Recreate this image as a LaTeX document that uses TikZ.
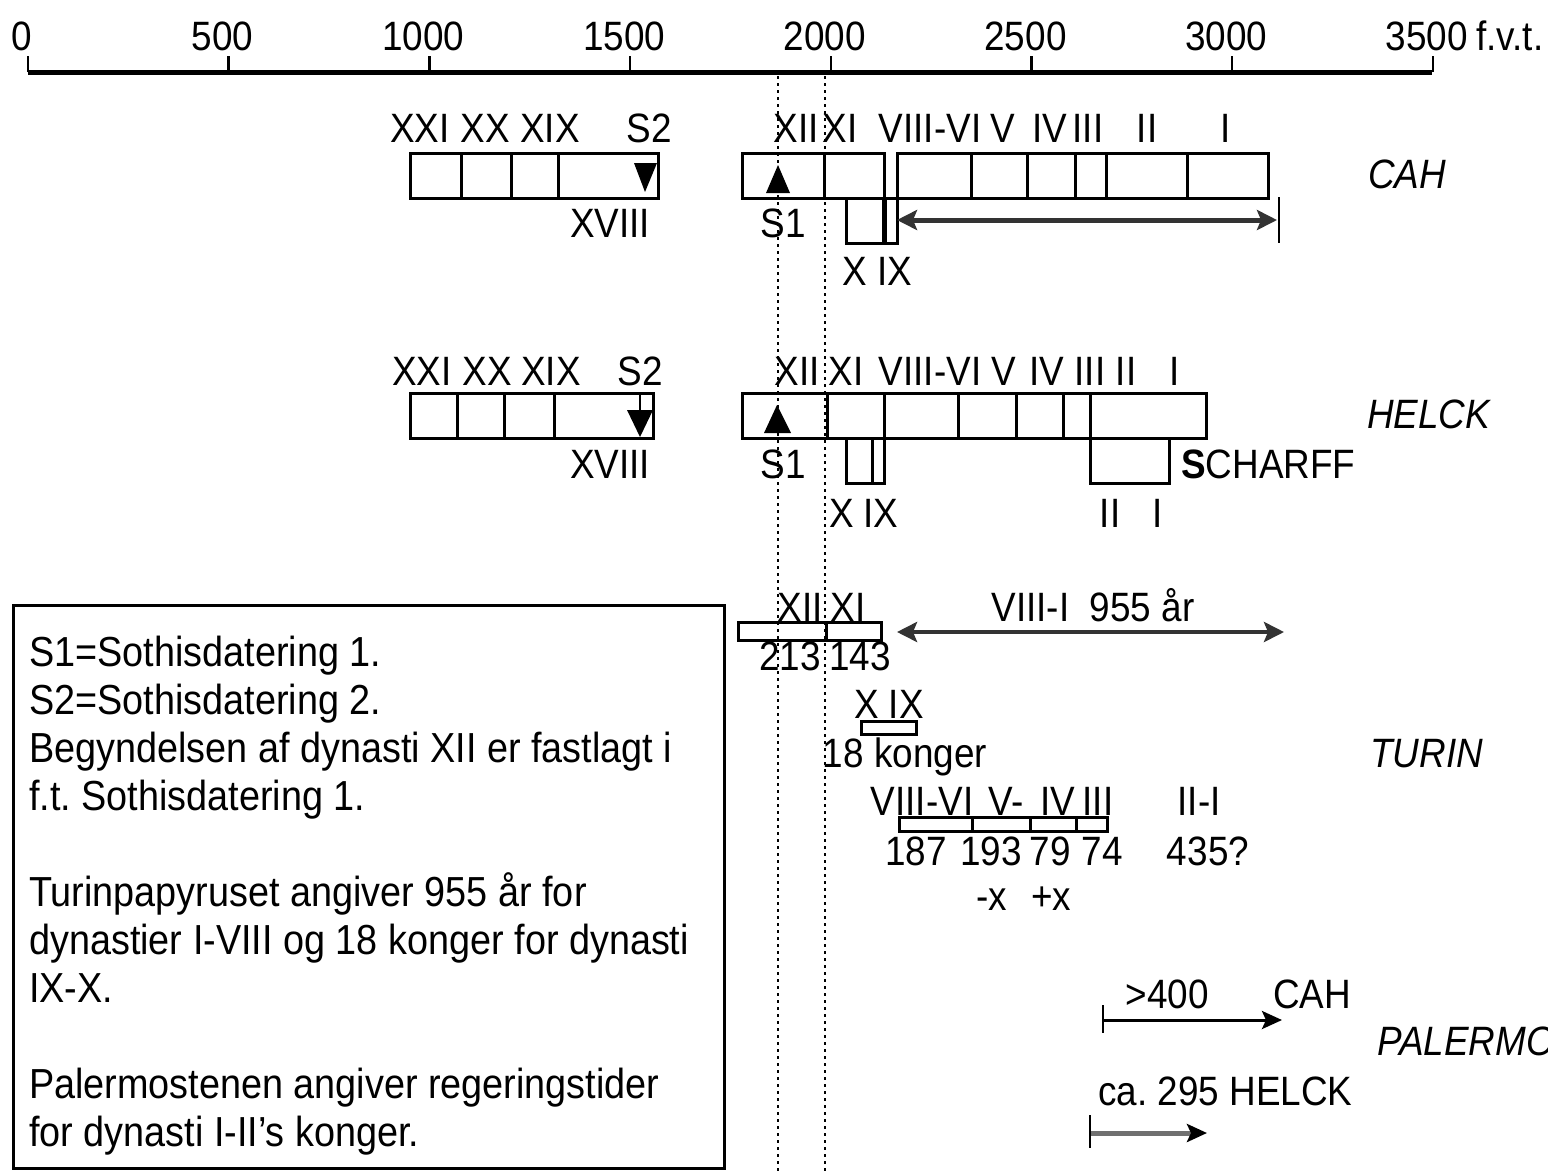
\documentclass[tikz,border=0pt]{standalone}
\usepackage{fontspec}
\setmainfont{Liberation Sans}[FakeStretch=0.9]
\usetikzlibrary{arrows.meta,positioning}
\definecolor{Ink}{HTML}{000000}
\definecolor{Shaft}{HTML}{333333}
\definecolor{Pale}{HTML}{707070}
\newcommand\lblfont{\fontsize{41}{48}\selectfont\frenchspacing}
\newcommand\notefont{\fontsize{42}{48}\selectfont\frenchspacing}
\tikzset{
  lbl/.style={font=\lblfont,Ink,anchor=base,inner sep=0pt},
  src/.style={font=\lblfont\itshape,Ink,anchor=base west,inner sep=0pt},
  dynbox/.style={draw=Ink,line width=3pt},
  guide/.style={Ink,line width=2.5pt,dash pattern=on 2.5pt off 4.5pt},
  span/.style={Shaft,line width=5pt,{Stealth[length=20pt,width=20pt,inset=4pt]}-{Stealth[length=20pt,width=20pt,inset=4pt]}},
  onward/.style={line width=3pt,-{Stealth[length=20pt,width=18pt,inset=4pt,color=Ink]}},
  stopbar/.style={Ink,line width=2pt},
}

\begin{document}
\begin{tikzpicture}[x=1pt,y=-1pt]
  \useasboundingbox (0,0) rectangle (1548,1171);
  % year axis
  \draw[Ink,line width=5pt] (28,72) -- (1432,72);
  \foreach \t in {0,500,...,3500} {
    \draw[Ink,line width=2.5pt] ({28+0.4014*\t},72) -- ++(0,-16);
    \node[lbl] (yr\t) at ({22+0.4014*\t},50) {\t};
  }
  \node[lbl,anchor=base west] (fvt) at ([xshift=8pt]yr3500.base east) {f.v.t.};
  % Sothis lines
  \draw[guide] (778,76) -- (778,1171);
  \draw[guide] (825,76) -- (825,1171);

  % CAH
  \draw[dynbox] (410,153) rectangle (658,198);
  \foreach \x in {461,511,558} \draw[dynbox] (\x,153) -- (\x,198);
  \draw[dynbox] (742,153) rectangle (884,198);
  \draw[dynbox] (824,153) -- (824,198);
  \draw[dynbox] (897,153) rectangle (1268,198);
  \foreach \x in {971,1027,1075,1106,1187} \draw[dynbox] (\x,153) -- (\x,198);
  \draw[dynbox] (846,198) rectangle (897,243);
  \draw[Ink,line width=5pt] (884,198) -- (884,243);
  \fill[Ink] (634,163) -- (657,163) -- (645,192) -- cycle;
  \fill[Ink] (766,193) -- (790,193) -- (778,165) -- cycle;
  \foreach \x/\t [count=\i] in {420/XXI,485/XX,550/XIX,649/S2,796/XII,840/XI,
    930/VIII-VI,1003/V,1050/IV,1088/III,1147/II,1226/I}
    \node[lbl] (cah\i) at (\x,142) {\t};
  \node[lbl] (cahxviii) at (610,237) {XVIII};
  \node[lbl] (cahsone) at (783,237) {S1};
  \node[lbl] (cahx) at (855,285) {X};
  \node[lbl] (cahix) at (895,285) {IX};
  \node[src] (cah) at (1368,188) {CAH};
  \coordinate (cahL) at (897,220);
  \coordinate (cahR) at (1277,220);
  \draw[span] (cahL) -- (cahR);
  \draw[stopbar] (1279,197) -- (1279,243);

  % HELCK
  \draw[dynbox] (410,393) rectangle (653,438);
  \foreach \x in {457,504,554} \draw[dynbox] (\x,393) -- (\x,438);
  \draw[dynbox] (742,393) rectangle (1206,438);
  \foreach \x in {827,884,958,1016,1063,1090} \draw[dynbox] (\x,393) -- (\x,438);
  \draw[dynbox] (846,438) rectangle (884,483);
  \draw[dynbox] (872,438) -- (872,483);
  \draw[dynbox] (1090,438) rectangle (1169,483);
  \draw[Ink,line width=2.5pt] (640,393) -- (640,412);
  \fill[Ink] (627,410) -- (653,410) -- (640,437) -- cycle;
  \fill[Ink] (764,433) -- (791,433) -- (777,405) -- cycle;
  \foreach \x/\t [count=\i] in {422/XXI,487/XX,551/XIX,640/S2,797/XII,846/XI,
    930/VIII-VI,1004/V,1047/IV,1090/III,1126/II,1175/I}
    \node[lbl] (helck\i) at (\x,385) {\t};
  \node[lbl] (helckxviii) at (610,478) {XVIII};
  \node[lbl] (helcksone) at (783,478) {S1};
  \node[lbl,anchor=base west] (scharff) at (1181,478) {\textbf{S}CHARFF};
  \foreach \x/\t [count=\i] in {842/X,881/IX,1110/II,1158/I}
    \node[lbl] (helcklow\i) at (\x,527) {\t};
  \node[src] (helck) at (1367,428) {HELCK};

  % TURIN
  \draw[dynbox] (738,622) rectangle (881,640);
  \draw[dynbox] (826,622) -- (826,640);
  \node[lbl] (turxii) at (800,621) {XII};
  \node[lbl] (turxi) at (848,621) {XI};
  \node[lbl] (turspan) at (1093,621) {VIII-I\ \ 955 år};
  \node[lbl] (turxiin) at (790,670) {213};
  \node[lbl] (turxin) at (860,670) {143};
  \coordinate (turL) at (897,632);
  \coordinate (turR) at (1284,632);
  \draw[span,line width=4pt] (turL) -- (turR);
  \node[lbl] (turxix) at (889,718) {X IX};
  \draw[dynbox] (861,721) rectangle (916,734);
  \node[lbl] (turkings) at (905,767) {18 konger};
  \node[src] (turin) at (1370,767) {TURIN};
  \draw[dynbox] (899,817) rectangle (1107,831);
  \foreach \x in {972,1030,1076} \draw[dynbox] (\x,817) -- (\x,831);
  \foreach \x/\t [count=\i] in {922/VIII-VI,1006/V-,1058/IV,1098/III,1199/II-I}
    \node[lbl] (turdyn\i) at (\x,815) {\t};
  \foreach \x/\t [count=\i] in {916/187,991/193,1050/79,1102/74,1208/435?}
    \node[lbl] (turyrs\i) at (\x,865) {\t};
  \node[lbl] (turminus) at (992,910) {-x};
  \node[lbl] (turplus) at (1051,910) {+x};

  % PALERMO
  \node[lbl] (palover) at (1167,1008) {>400};
  \node[lbl,anchor=base west] (palcah) at (1273,1008) {CAH};
  \coordinate (palA) at (1103,1020);
  \coordinate (palB) at (1282,1020);
  \draw[onward,Ink] (palA) -- (palB);
  \draw[stopbar] (1103,1005) -- (1103,1033);
  \node[src] (palermo) at (1377,1055) {PALERMO};
  \node[lbl,anchor=base west] (palhelck) at (1098,1105) {ca. 295 HELCK};
  \coordinate (palC) at (1090,1133);
  \coordinate (palD) at (1207,1133);
  \draw[onward,Pale,line width=5pt] (palC) -- (palD);
  \draw[stopbar] (1090,1115) -- (1090,1148);

  % notes
  \draw[dynbox] (13,605) rectangle (724,1168);
  \foreach \l/\t in {0/{S1=Sothisdatering 1.},1/{S2=Sothisdatering 2.},
    2/{Begyndelsen af dynasti XII er fastlagt i},3/{f.t. Sothisdatering 1.},
    5/{Turinpapyruset angiver 955 år for},6/{dynastier I-VIII og 18 konger for dynasti},
    7/{IX-X.},9/{Palermostenen angiver regeringstider},10/{for dynasti I-II’s konger.}}
    \node[lbl,font=\notefont,anchor=base west] (note\l) at (29,{666+48*\l}) {\t};
\end{tikzpicture}
\end{document}
